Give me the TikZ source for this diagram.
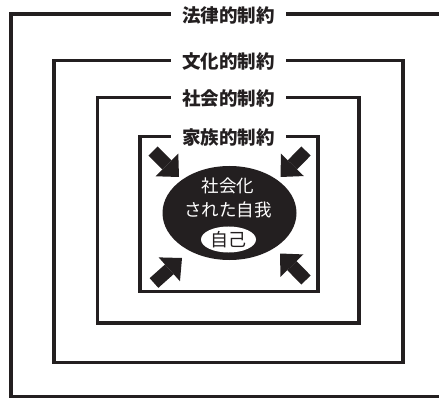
\documentclass[tikz,border=0pt]{standalone}
\usepackage{fontspec}
\newfontfamily\jp{Noto Sans CJK JP}
\usetikzlibrary{arrows.meta,shapes.geometric}
\definecolor{ink}{HTML}{231F20}
\begin{document}
\begin{tikzpicture}[x=1pt,y=-1pt,
  frame/.style={draw=ink, line width=3.3pt},
  lab/.style={fill=white, inner xsep=11pt, inner ysep=1pt, font=\jp\bfseries\fontsize{18.5}{20}\selectfont, text=ink},
  intext/.style={inner sep=0pt, font=\jp\fontsize{17.5}{19}\selectfont},
  bigarrow/.style={draw=ink, line width=13pt, -{Triangle[length=17pt,width=32pt,line width=0pt]}},
]
\useasboundingbox (0,0) rectangle (439,398);
\clip (0,0) rectangle (439,398);
% frames
\draw[frame] (11,14) rectangle (460,397);
\draw[frame] (54,60.7) rectangle (403,362.5);
\draw[frame] (97.3,97.3) rectangle (359,323);
\draw[frame] (140,136.5) rectangle (318,291.5);
% labels
\node[lab] (law) at (228.5,15.5) {法律的制約};
\node[lab] (cult) at (228.5,61.5) {文化的制約};
\node[lab] (soc) at (228.5,98) {社会的制約};
\node[lab] (fam) at (228.5,137) {家族的制約};
% self
\node[ellipse, fill=ink, minimum width=134pt, minimum height=94pt, inner sep=0pt] (ego) at (229.5,213) {};
\node[intext, text=white] (t1) at (228,185.5) {社会化};
\node[intext, text=white] (t2) at (228,209.5) {された自我};
\node[ellipse, fill=white, minimum width=55pt, minimum height=26pt, inner sep=0pt, intext, font=\jp\fontsize{18}{20}\selectfont, text=ink] (jiko) at (228.5,239.5) {自己};
% arrows
\coordinate (ula) at (153,151); \coordinate (ulb) at (179,177);
\coordinate (ura) at (306,151); \coordinate (urb) at (280.5,177);
\coordinate (lla) at (154,283); \coordinate (llb) at (182,258);
\coordinate (lra) at (306,280); \coordinate (lrb) at (280,253.5);
\draw[bigarrow] (ula) -- (ulb);
\draw[bigarrow] (ura) -- (urb);
\draw[bigarrow] (lla) -- (llb);
\draw[bigarrow] (lra) -- (lrb);
\end{tikzpicture}
\end{document}
